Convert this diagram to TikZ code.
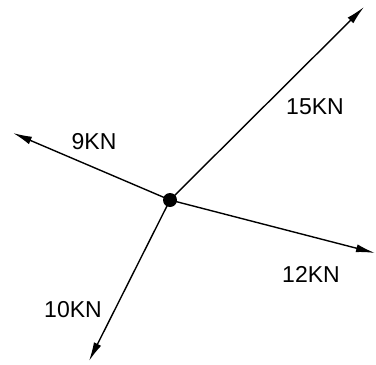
\documentclass[tikz,border=0pt]{standalone}
\usepackage{fontspec}
\setmainfont{Liberation Sans}
\usetikzlibrary{arrows.meta}
\begin{document}
\begin{tikzpicture}[x=1pt,y=-1pt,
  force/.style={line width=1.4pt,-{Latex[length=19pt,width=8pt]}},
  lbl/.style={font=\fontsize{23}{23}\selectfont,inner sep=0pt}]
\useasboundingbox (0,0) rectangle (376,365);
\node[circle,fill=black,inner sep=0pt,minimum size=14pt] (o) at (170,200) {};
\coordinate (a) at (364,7);
\coordinate (b) at (13,133);
\coordinate (c) at (375,253);
\coordinate (d) at (89,361);
\draw[force] (o.center) -- (a);
\draw[force] (o.center) -- (b);
\draw[force] (o.center) -- (c);
\draw[force] (o.center) -- (d);
\node[lbl] (la) at (315,107) {15KN};
\node[lbl] (lb) at (94,142) {9KN};
\node[lbl] (lc) at (311,274) {12KN};
\node[lbl] (ld) at (73,310) {10KN};
\end{tikzpicture}
\end{document}
